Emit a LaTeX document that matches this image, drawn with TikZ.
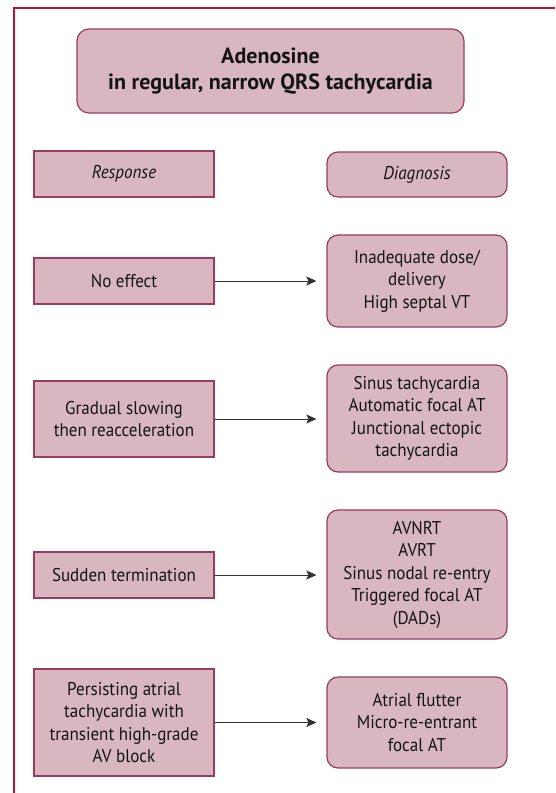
\documentclass[tikz,border=0pt]{standalone}
\usepackage{fontspec}
\setmainfont{PT Sans}[FakeStretch=0.92]
\newfontfamily\titlefont{PT Sans}
\usetikzlibrary{arrows.meta}
\definecolor{frame}{HTML}{B5152E}
\definecolor{boxfill}{HTML}{D8B7C0}
\definecolor{boxline}{HTML}{9C3A62}
\definecolor{arr}{HTML}{333333}
\begin{document}
\begin{tikzpicture}[x=1pt,y=1pt,
  base/.style={draw=boxline,fill=boxfill,line width=1.2pt,align=center,inner sep=2pt,
    font=\fontsize{18.5}{22.5}\selectfont,text=black!92},
  sqbox/.style={base,minimum width=180pt},
  rdbox/.style={base,rounded corners=11pt,minimum width=180pt},
  conn/.style={draw=arr,line width=1pt,-{Stealth[length=10pt,width=9pt,inset=2pt]},shorten >=10pt}]
\useasboundingbox (0,0) rectangle (555,-793);
\fill[white] (0,0) rectangle (555,-793);
\draw[frame,line width=2pt] (14,-793) -- (14,-8) -- (555,-8);
\node[base,rounded corners=12pt,minimum width=387pt,minimum height=84pt,font=\titlefont\bfseries\fontsize{22}{26}\selectfont] (title) at (270.5,-71) {Adenosine\\ in regular, narrow QRS tachycardia};
\node[sqbox,minimum height=46pt,font=\itshape\fontsize{18.5}{22.5}\selectfont] (resp) at (124,-174) {Response};
\node[rdbox,minimum height=45pt,font=\itshape\fontsize{18.5}{22.5}\selectfont] (diag) at (417,-174.5) {Diagnosis};
\node[sqbox,minimum height=46pt] (r1) at (124,-281) {No effect};
\node[rdbox,minimum height=92pt] (d1) at (417,-281) {Inadequate dose/\\delivery\\High septal VT};
\node[sqbox,minimum height=76pt] (r2) at (124,-419) {Gradual slowing\\then reacceleration};
\node[rdbox,minimum height=107pt] (d2) at (417,-418.5) {Sinus tachycardia\\Automatic focal AT\\Junctional ectopic\\tachycardia};
\node[sqbox,minimum height=46pt] (r3) at (124,-575) {Sudden termination};
\node[rdbox,minimum height=129pt] (d3) at (417,-574.5) {AVNRT\\AVRT\\Sinus nodal re-entry\\Triggered focal AT\\(DADs)};
\node[sqbox,minimum height=107pt] (r4) at (124,-722.5) {Persisting atrial\\tachycardia with\\transient high-grade\\AV block};
\node[rdbox,minimum height=91pt] (d4) at (417,-722.5) {Atrial flutter\\Micro-re-entrant\\focal AT};
\draw[conn] (r1.east) -- (r1.east -| d1.west);
\draw[conn] (r2.east) -- (r2.east -| d2.west);
\draw[conn] (r3.east) -- (r3.east -| d3.west);
\draw[conn] (r4.east) -- (r4.east -| d4.west);
\end{tikzpicture}
\end{document}
